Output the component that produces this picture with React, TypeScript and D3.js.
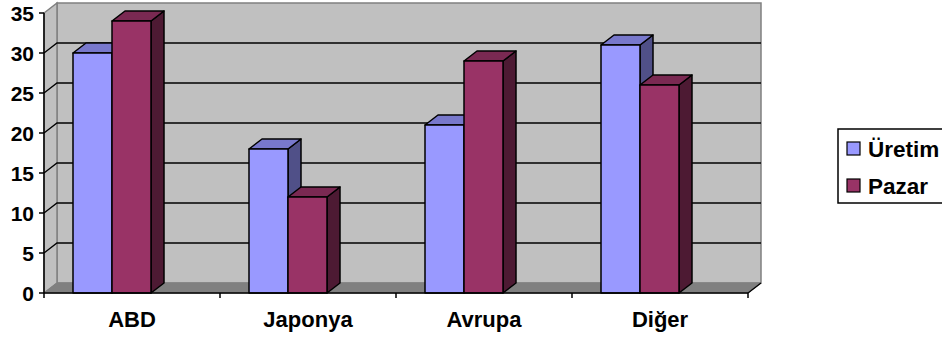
import React from 'react';
import * as d3 from 'd3';

const categories = ['ABD', 'Japonya', 'Avrupa', 'Diğer'];
const seriesNames = ['Üretim', 'Pazar'];
const uretim = [30, 18, 21, 31];
const pazar = [34, 12, 29, 26];
const yTicks = [0, 5, 10, 15, 20, 25, 30, 35];

const colors = [
  { front: '#9999FF', top: '#7878CC', side: '#505088' },
  { front: '#993366', top: '#7A2952', side: '#4D1A33' },
];

const W = 942;
const H = 338;
const DX = 13;
const DY = -10;
const FONT = 'Arial, "Liberation Sans", sans-serif';

export default function App() {
  const x = d3.scaleBand().domain(categories).range([44, 748]);
  const y = d3.scaleLinear().domain([0, 35]).range([293, 13]);
  const inner = d3.scaleBand().domain(seriesNames).range([0, 78]);
  const series = [uretim, pazar];

  const x0 = x.range()[0];
  const x1 = x.range()[1];
  const y0 = y(0);
  const yTop = y(35);

  const poly = (pts: number[][]) => pts.map(p => p.join(',')).join(' ');

  return (
    <svg width={W} height={H} style={{ position: 'absolute', left: 0, top: 0 }}>
      {/* back wall */}
      <rect x={x0 + DX} y={yTop + DY} width={x1 - x0} height={y0 - yTop}
        fill="#C0C0C0" stroke="#808080" strokeWidth={1.5} />
      {/* side wall */}
      <polygon points={poly([[x0, y0], [x0, yTop], [x0 + DX, yTop + DY], [x0 + DX, y0 + DY]])}
        fill="#C0C0C0" stroke="#808080" strokeWidth={1.5} />
      {/* floor */}
      <polygon points={poly([[x0, y0], [x1, y0], [x1 + DX, y0 + DY], [x0 + DX, y0 + DY]])}
        fill="#808080" stroke="#808080" strokeWidth={1} />
      <line x1={x1} y1={y0} x2={x1 + DX} y2={y0 + DY} stroke="#000" strokeWidth={1.3} />
      {/* gridlines */}
      {yTicks.filter(t => t > 0 && t < 35).map(t => (
        <polyline key={t} fill="none" stroke="#000" strokeWidth={1.3}
          points={poly([[x0, y(t)], [x0 + DX, y(t) + DY], [x1 + DX, y(t) + DY]])} />
      ))}
      {/* bars */}
      {series.map((vals, si) => categories.map((c, ci) => {
        const bx = (x(c) as number) + 29 + (inner(seriesNames[si]) as number);
        const bw = inner.bandwidth();
        const by = y(vals[ci]);
        const col = colors[si];
        return (
          <g key={`${si}-${ci}`} stroke="#000" strokeWidth={1.5} strokeLinejoin="round">
            <polygon fill={col.side}
              points={poly([[bx + bw, by], [bx + bw + DX, by + DY], [bx + bw + DX, y0 + DY], [bx + bw, y0]])} />
            <polygon fill={col.top}
              points={poly([[bx, by], [bx + DX, by + DY], [bx + bw + DX, by + DY], [bx + bw, by]])} />
            <rect x={bx} y={by} width={bw} height={y0 - by} fill={col.front} />
          </g>
        );
      }))}
      {/* axes */}
      <line x1={x0} y1={yTop} x2={x0} y2={y0} stroke="#000" strokeWidth={1.5} />
      <line x1={x0} y1={y0} x2={x1} y2={y0} stroke="#000" strokeWidth={1.5} />
      {yTicks.map(t => (
        <g key={t}>
          <line x1={x0 - 5} y1={y(t)} x2={x0} y2={y(t)} stroke="#000" strokeWidth={1.5} />
          <text x={34} y={y(t)} dy="0.36em" textAnchor="end" fontFamily={FONT}
            fontWeight="bold" fontSize={21}>{t}</text>
        </g>
      ))}
      {[...categories.map(c => x(c) as number), x1].map((v, i) => (
        <line key={i} x1={v} y1={y0} x2={v} y2={y0 + 5} stroke="#000" strokeWidth={1.5} />
      ))}
      {categories.map(c => (
        <text key={c} x={(x(c) as number) + x.bandwidth() / 2} y={327} textAnchor="middle"
          fontFamily={FONT} fontWeight="bold" fontSize={22}>{c}</text>
      ))}
      {/* legend */}
      <rect x={838} y={129} width={120} height={74} fill="#fff" stroke="#000" strokeWidth={1.5} />
      {seriesNames.map((s, i) => (
        <g key={s}>
          <rect x={847} y={142 + i * 37} width={13} height={13} fill={colors[i].front}
            stroke="#000" strokeWidth={1.2} />
          <text x={868} y={157 + i * 37} fontFamily={FONT} fontWeight="bold" fontSize={22.5}>{s}</text>
        </g>
      ))}
    </svg>
  );
}
